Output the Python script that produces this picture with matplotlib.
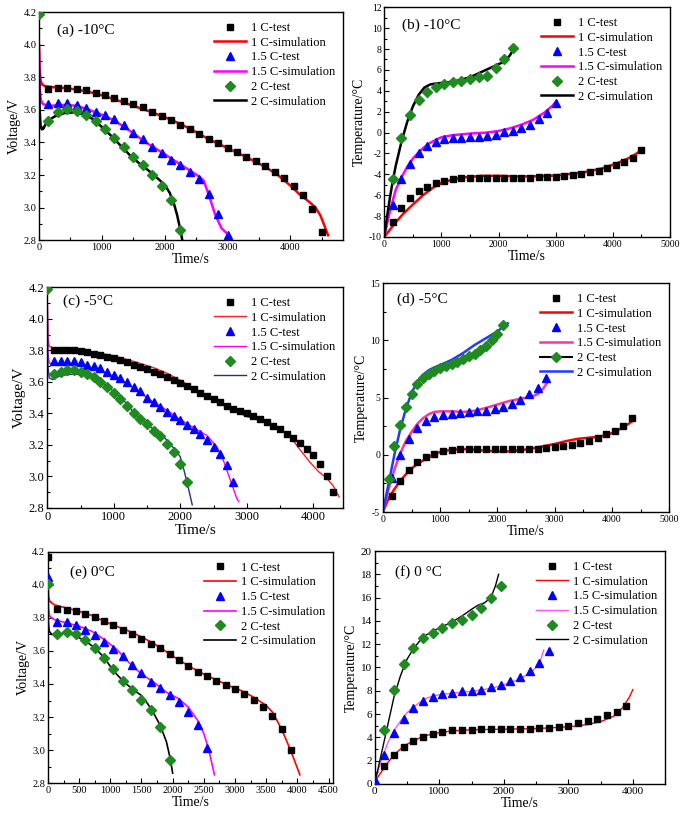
import matplotlib
matplotlib.use("Agg")
import matplotlib.pyplot as plt
from matplotlib.ticker import MultipleLocator
from matplotlib.lines import Line2D

plt.rcParams['font.family'] = ['Liberation Serif', 'DejaVu Serif']
plt.rcParams['axes.unicode_minus'] = False

# ---------------- (a) -10C voltage ----------------
a_t_1c = [150, 300, 450, 600, 750, 900, 1050, 1200, 1350, 1500, 1650, 1800, 1950, 2100, 2250,
          2400, 2550, 2700, 2850, 3000, 3150, 3300, 3450, 3600, 3750, 3900, 4050, 4200, 4350, 4500]
a_v_1c = [3.73, 3.735, 3.735, 3.73, 3.72, 3.705, 3.69, 3.675, 3.655, 3.635, 3.615, 3.59, 3.565, 3.54, 3.51,
          3.48, 3.45, 3.42, 3.395, 3.365, 3.34, 3.31, 3.285, 3.255, 3.22, 3.18, 3.135, 3.075, 2.99, 2.85]
a_t_15c = [150, 300, 450, 600, 750, 900, 1050, 1200, 1350, 1500, 1650, 1800, 1950, 2100, 2250,
           2400, 2550, 2700, 2850, 3000]
a_v_15c = [3.635, 3.645, 3.645, 3.63, 3.61, 3.59, 3.57, 3.545, 3.505, 3.46, 3.42, 3.375, 3.335, 3.295, 3.26,
           3.22, 3.175, 3.085, 2.96, 2.83]
a_t_2c = [0, 150, 300, 450, 600, 750, 900, 1050, 1200, 1350, 1500, 1650, 1800, 1950, 2100, 2250]
a_v_2c = [4.19, 3.53, 3.585, 3.605, 3.595, 3.57, 3.53, 3.485, 3.43, 3.37, 3.31, 3.26, 3.20, 3.135, 3.045, 2.865]

a_st_1c = [0, 10, 25, 50, 100, 200, 400, 600, 800, 1000, 1200, 1500, 1800, 2100, 2400, 2700, 3000,
           3300, 3600, 3800, 4000, 4150, 4300, 4400, 4480, 4550, 4600]
a_sv_1c = [4.0, 3.85, 3.78, 3.755, 3.745, 3.74, 3.735, 3.725, 3.71, 3.69, 3.665, 3.625, 3.585, 3.54, 3.485,
           3.42, 3.365, 3.31, 3.25, 3.20, 3.135, 3.08, 3.035, 3.0, 2.95, 2.88, 2.83]
a_st_15c = [0, 10, 25, 50, 100, 200, 300, 450, 600, 800, 1000, 1200, 1450, 1700, 1950, 2150, 2350,
            2550, 2620, 2700, 2800, 2900, 2980, 3030]
a_sv_15c = [3.95, 3.75, 3.67, 3.64, 3.63, 3.625, 3.63, 3.63, 3.625, 3.60, 3.57, 3.535, 3.47, 3.40, 3.34,
            3.29, 3.24, 3.19, 3.165, 3.08, 2.96, 2.875, 2.845, 2.82]
a_st_2c = [0, 10, 25, 45, 70, 100, 150, 250, 400, 550, 700, 850, 1000, 1150, 1300, 1450, 1600, 1750,
           1900, 2000, 2080, 2150, 2200, 2250, 2280]
a_sv_2c = [3.85, 3.6, 3.5, 3.48, 3.485, 3.51, 3.535, 3.56, 3.58, 3.585, 3.575, 3.545, 3.495, 3.44, 3.38,
           3.32, 3.27, 3.225, 3.175, 3.14, 3.09, 3.02, 2.95, 2.86, 2.80]

# ---------------- (b) -10C temperature ----------------
b_t_1c = a_t_1c
b_v_1c = [-8.6, -7.2, -6.3, -5.65, -5.2, -4.85, -4.65, -4.5, -4.4, -4.37, -4.37, -4.37, -4.37, -4.37, -4.37,
          -4.37, -4.37, -4.3, -4.3, -4.3, -4.2, -4.1, -4.0, -3.8, -3.65, -3.4, -3.15, -2.85, -2.4, -1.7]
b_t_15c = a_t_15c
b_v_15c = [-6.9, -4.5, -3.0, -2.0, -1.3, -0.95, -0.6, -0.5, -0.5, -0.45, -0.4, -0.3, -0.2, 0.05, 0.1,
           0.4, 0.75, 1.3, 1.9, 2.85]
b_t_2c = [150, 300, 450, 600, 750, 900, 1050, 1200, 1350, 1500, 1650, 1800, 1950, 2100, 2250]
b_v_2c = [-4.5, -0.5, 1.65, 3.1, 3.9, 4.4, 4.65, 4.8, 4.95, 5.15, 5.3, 5.45, 6.2, 7.0, 8.1]

b_st_1c = [0, 100, 200, 330, 500, 680, 850, 1000, 1200, 1400, 1700, 2000, 2300, 2600, 2900, 3200,
           3500, 3800, 4050, 4300, 4520]
b_sv_1c = [-10, -9.3, -8.6, -7.8, -6.9, -6.0, -5.3, -4.85, -4.5, -4.3, -4.15, -4.15, -4.2, -4.2, -4.15,
           -4.0, -3.8, -3.45, -3.0, -2.4, -1.65]
b_st_15c = [0, 50, 100, 200, 300, 400, 500, 600, 700, 800, 900, 1000, 1200, 1500, 1800, 2000, 2200,
            2400, 2600, 2800, 2950, 3010]
b_sv_15c = [-10, -8.7, -7.5, -5.5, -4.3, -3.3, -2.5, -1.9, -1.4, -1.0, -0.7, -0.45, -0.25, -0.1, 0.0,
            0.15, 0.4, 0.75, 1.2, 1.9, 2.6, 3.0]
b_st_2c = [0, 50, 100, 150, 200, 300, 400, 500, 600, 700, 800, 900, 1100, 1300, 1500, 1700, 1900,
           2100, 2200, 2260]
b_sv_2c = [-10, -8, -6.2, -4.6, -3.2, -0.9, 1.0, 2.5, 3.6, 4.3, 4.6, 4.7, 4.8, 5.0, 5.3, 5.8, 6.3,
           6.8, 7.4, 8.0]

# ---------------- (c) -5C voltage ----------------
c_t_1c = [100, 200, 300, 400, 500, 600, 700, 800, 900, 1000, 1100, 1200, 1300, 1400, 1500, 1600,
          1700, 1800, 1900, 2000, 2100, 2200, 2300, 2400, 2500, 2600, 2700, 2800, 2900, 3000, 3100,
          3200, 3300, 3400, 3500, 3600, 3700, 3800, 3900, 4000, 4100, 4200, 4300]
c_v_1c = [3.80, 3.80, 3.80, 3.80, 3.795, 3.79, 3.78, 3.77, 3.76, 3.75,
          3.74, 3.725, 3.71, 3.695, 3.68, 3.665, 3.65, 3.63, 3.615, 3.595,
          3.575, 3.555, 3.53, 3.51, 3.49, 3.47, 3.45, 3.43, 3.415, 3.405,
          3.385, 3.365, 3.345, 3.32, 3.30, 3.27, 3.245, 3.21, 3.175, 3.135,
          3.08, 3.005, 2.90]
c_t_15c = [100, 200, 300, 400, 500, 600, 700, 800, 900, 1000, 1100, 1200, 1300, 1400, 1500, 1600,
           1700, 1800, 1900, 2000, 2100, 2200, 2300, 2400, 2500, 2600, 2700, 2800]
c_v_15c = [3.735, 3.735, 3.735, 3.735, 3.725, 3.71, 3.70, 3.685, 3.665, 3.645,
           3.625, 3.60, 3.57, 3.54, 3.50, 3.47, 3.44, 3.41, 3.385, 3.355,
           3.325, 3.30, 3.27, 3.23, 3.185, 3.14, 3.07, 2.965]
c_t_2c = [0, 100, 200, 300, 400, 500, 600, 700, 800, 900, 1000, 1100, 1200, 1300, 1400, 1500,
          1600, 1700, 1800, 1900, 2000, 2100]
c_v_2c = [4.19, 3.65, 3.665, 3.675, 3.675, 3.665, 3.65, 3.63, 3.60, 3.565, 3.53,
          3.49, 3.45, 3.405, 3.365, 3.33, 3.29, 3.255, 3.205, 3.155, 3.08, 2.965]

c_st_1c = [0, 10, 30, 100, 400, 700, 1000, 1300, 1600, 1800, 2000, 2300, 2600, 2800, 3000, 3200,
           3400, 3600, 3650, 3800, 3950, 4080, 4200, 4300, 4390]
c_sv_1c = [4.1, 3.88, 3.825, 3.815, 3.81, 3.79, 3.765, 3.73, 3.69, 3.655, 3.61, 3.53, 3.46, 3.42,
           3.38, 3.355, 3.315, 3.275, 3.255, 3.17, 3.09, 3.03, 2.99, 2.94, 2.87]
c_st_15c = [0, 10, 30, 100, 200, 400, 600, 800, 1000, 1200, 1400, 1600, 1800, 2000, 2200, 2400,
            2550, 2650, 2750, 2850, 2880]
c_sv_15c = [4.15, 3.78, 3.72, 3.71, 3.715, 3.71, 3.695, 3.67, 3.63, 3.59, 3.53, 3.47, 3.42, 3.36,
            3.31, 3.26, 3.19, 3.10, 2.98, 2.86, 2.84]
c_st_2c = [0, 10, 30, 80, 200, 400, 600, 800, 1000, 1200, 1300, 1500, 1700, 1800, 1900, 2000,
           2050, 2120, 2180]
c_sv_2c = [4.15, 3.7, 3.625, 3.615, 3.64, 3.65, 3.64, 3.60, 3.54, 3.46, 3.405, 3.33, 3.27, 3.23,
           3.18, 3.125, 3.05, 2.93, 2.82]

# ---------------- (d) -5C temperature ----------------
d_t_1c = [150, 300, 450, 600, 750, 900, 1050, 1200, 1350, 1500, 1650, 1800, 1950, 2100, 2250,
          2400, 2550, 2700, 2850, 3000, 3150, 3300, 3450, 3600, 3750, 3900, 4050, 4200, 4350]
d_v_1c = [-3.6, -2.3, -1.3, -0.6, -0.2, 0.1, 0.35, 0.45, 0.55, 0.55, 0.55, 0.55, 0.55, 0.55, 0.55,
          0.55, 0.55, 0.55, 0.6, 0.7, 0.8, 0.9, 1.05, 1.25, 1.45, 1.8, 2.1, 2.5, 3.2]
d_t_15c = [150, 300, 450, 600, 750, 900, 1050, 1200, 1350, 1500, 1650, 1800, 1950, 2100, 2250,
           2400, 2550, 2700, 2850]
d_v_15c = [-2.0, 0.0, 1.4, 2.35, 2.95, 3.35, 3.5, 3.6, 3.7, 3.75, 3.8, 3.85, 4.0, 4.15, 4.45,
           4.75, 5.3, 5.8, 6.75]
d_t_2c = [100, 200, 300, 400, 500, 600, 700, 800, 900, 1000, 1100, 1200, 1300, 1400, 1500, 1600,
          1700, 1800, 1900, 2000, 2100]
d_v_2c = [-2.1, 0.8, 2.65, 4.2, 5.3, 6.15, 6.7, 7.05, 7.35, 7.55, 7.75, 7.95, 8.15, 8.35, 8.6,
          8.85, 9.15, 9.55, 10.05, 10.6, 11.35]

d_st_1c = [0, 100, 200, 300, 400, 500, 600, 700, 800, 900, 1000, 1200, 1400, 1600, 1800, 2000,
           2200, 2400, 2600, 2800, 3000, 3200, 3400, 3600, 3800, 4000, 4200, 4370]
d_sv_1c = [-5, -3.8, -3.0, -2.3, -1.7, -1.2, -0.8, -0.5, -0.2, 0.05, 0.25, 0.45, 0.5, 0.45, 0.35,
           0.3, 0.3, 0.4, 0.55, 0.75, 0.95, 1.2, 1.4, 1.5, 1.6, 1.9, 2.4, 3.0]
d_st_15c = [0, 100, 200, 300, 400, 500, 600, 700, 800, 900, 1000, 1200, 1400, 1600, 1800, 2000,
            2200, 2400, 2600, 2700, 2800, 2880]
d_sv_15c = [-5, -3.0, -1.3, 0.1, 1.2, 2.0, 2.7, 3.2, 3.55, 3.75, 3.8, 3.8, 3.75, 3.85, 4.1, 4.4,
            4.7, 4.9, 5.1, 5.3, 5.8, 6.4]
d_st_2c = [0, 100, 200, 300, 400, 500, 600, 700, 800, 900, 1000, 1200, 1400, 1600, 1800, 2000, 2180]
d_sv_2c = [-5, -2.5, 0.0, 2.2, 4.0, 5.4, 6.4, 7.0, 7.4, 7.65, 7.85, 8.3, 8.9, 9.6, 10.2, 10.8, 11.5]

# ---------------- (e) 0C voltage ----------------
e_t_1c = [0, 150, 300, 450, 600, 750, 900, 1050, 1200, 1350, 1500, 1650, 1800, 1950, 2100, 2250,
          2400, 2550, 2700, 2850, 3000, 3150, 3300, 3450, 3600, 3750, 3900]
e_v_1c = [4.17, 3.855, 3.85, 3.84, 3.825, 3.805, 3.78, 3.76, 3.73, 3.705, 3.675, 3.645, 3.615, 3.58,
          3.545, 3.51, 3.475, 3.45, 3.42, 3.395, 3.37, 3.34, 3.305, 3.26, 3.205, 3.125, 3.0]
e_t_15c = [0, 150, 300, 450, 600, 750, 900, 1050, 1200, 1350, 1500, 1650, 1800, 1950, 2100, 2250,
           2400, 2550]
e_v_15c = [4.045, 3.775, 3.775, 3.755, 3.73, 3.695, 3.655, 3.61, 3.57, 3.515, 3.465, 3.415, 3.375,
           3.335, 3.29, 3.23, 3.153, 3.01]
e_t_2c = [0, 150, 300, 450, 600, 750, 900, 1050, 1200, 1350, 1500, 1650, 1800, 1950]
e_v_2c = [4.005, 3.705, 3.715, 3.70, 3.665, 3.615, 3.56, 3.49, 3.42, 3.365, 3.305, 3.24, 3.14, 2.94]

e_st_1c = [0, 10, 30, 100, 300, 500, 700, 900, 1100, 1300, 1500, 1700, 1900, 2100, 2300, 2500,
           2700, 2900, 3100, 3300, 3500, 3600, 3700, 3800, 3900, 4000, 4040]
e_sv_1c = [4.05, 3.93, 3.9, 3.88, 3.86, 3.84, 3.815, 3.78, 3.75, 3.72, 3.685, 3.645, 3.595, 3.545,
           3.50, 3.46, 3.425, 3.39, 3.36, 3.32, 3.27, 3.23, 3.16, 3.08, 2.99, 2.89, 2.85]
e_st_15c = [0, 10, 30, 100, 300, 500, 700, 900, 1100, 1300, 1500, 1700, 1900, 2100, 2250, 2400,
            2500, 2580, 2640, 2670]
e_sv_15c = [4.0, 3.85, 3.81, 3.79, 3.77, 3.75, 3.72, 3.67, 3.61, 3.53, 3.46, 3.41, 3.35, 3.31, 3.26,
            3.18, 3.10, 3.0, 2.9, 2.85]
e_st_2c = [0, 10, 20, 60, 150, 300, 450, 600, 750, 900, 1050, 1200, 1350, 1500, 1600, 1700, 1800,
           1900, 1960, 2000]
e_sv_2c = [3.85, 3.76, 3.72, 3.70, 3.70, 3.71, 3.69, 3.66, 3.62, 3.56, 3.48, 3.42, 3.37, 3.33, 3.28,
           3.22, 3.15, 3.05, 2.95, 2.86]

# ---------------- (f) 0C temperature ----------------
f_t_1c = [150, 300, 450, 600, 750, 900, 1050, 1200, 1350, 1500, 1650, 1800, 1950, 2100, 2250,
          2400, 2550, 2700, 2850, 3000, 3150, 3300, 3450, 3600, 3750, 3900]
f_v_1c = [1.5, 2.5, 3.2, 3.65, 4.0, 4.3, 4.5, 4.6, 4.6, 4.6, 4.7, 4.7, 4.7, 4.7, 4.7, 4.75, 4.8, 4.8,
          4.9, 5.0, 5.2, 5.4, 5.6, 5.9, 6.2, 6.7]
f_t_15c = [0, 150, 300, 450, 600, 750, 900, 1050, 1200, 1350, 1500, 1650, 1800, 1950, 2100, 2250,
           2400, 2550, 2700]
f_v_15c = [0.3, 2.5, 4.4, 5.6, 6.5, 7.1, 7.5, 7.7, 7.8, 8.0, 8.0, 8.1, 8.3, 8.5, 8.8, 9.2, 9.7,
           10.4, 11.4]
f_t_2c = [150, 300, 450, 600, 750, 900, 1050, 1200, 1350, 1500, 1650, 1800, 1950]
f_v_2c = [4.6, 8.1, 10.3, 11.7, 12.5, 13.0, 13.4, 13.8, 14.1, 14.5, 15.1, 16.0, 17.0]

f_st_1c = [0, 100, 200, 300, 400, 500, 600, 700, 800, 900, 1000, 1200, 1500, 2000, 2500, 3000,
           3300, 3500, 3700, 3850, 3950, 4000]
f_sv_1c = [0.2, 1.0, 1.8, 2.5, 3.0, 3.4, 3.7, 3.95, 4.15, 4.3, 4.4, 4.55, 4.65, 4.7, 4.75, 4.9,
           5.1, 5.35, 5.8, 6.6, 7.5, 8.1]
f_st_15c = [0, 100, 200, 300, 400, 500, 600, 700, 800, 900, 1000, 1200, 1500, 1800, 2000, 2200,
            2400, 2500, 2580, 2620]
f_sv_15c = [0.2, 2.0, 3.5, 4.6, 5.4, 6.1, 6.6, 7.0, 7.35, 7.55, 7.65, 7.8, 7.95, 8.2, 8.5, 8.9,
            9.5, 10.0, 10.8, 11.5]
f_st_2c = [0, 100, 200, 300, 400, 500, 600, 700, 800, 900, 1000, 1200, 1400, 1500, 1600, 1700,
           1800, 1870, 1920]
f_sv_2c = [0.0, 2.5, 5.0, 7.5, 9.3, 10.7, 11.6, 12.3, 12.8, 13.1, 13.4, 13.9, 14.6, 15.0, 15.35,
           15.55, 16.0, 17.0, 18.0]

labels = ["1 C-test", "1 C-simulation", "1.5 C-test", "1.5 C-simulation", "2 C-test", "2 C-simulation"]
labels_f = ["1 C-test", "1 C-simulation", "1.5 C-simulation", "1.5 C-simulation", "2 C-test", "2 C-simulation"]

GREEN = '#1f8a1f'


def draw(ax, tests, sims, sim_colors, lw, lab):
    (t1, v1), (t15, v15), (t2, v2) = tests
    (s1, w1), (s15, w15), (s2, w2) = sims
    ax.plot(t1, v1, 's', color='black', ms=5, ls='none', label=lab[0], zorder=3)
    ax.plot(s1, w1, '-', color=sim_colors[0], lw=lw, label=lab[1], zorder=2)
    ax.plot(t15, v15, '^', color='blue', ms=6, ls='none', label=lab[2], zorder=3)
    ax.plot(s15, w15, '-', color=sim_colors[1], lw=lw, label=lab[3], zorder=2)
    ax.plot(t2, v2, 'D', color=GREEN, ms=4.6, ls='none', label=lab[4], zorder=3)
    ax.plot(s2, w2, '-', color=sim_colors[2], lw=lw, label=lab[5], zorder=2)


def style(ax, xlim, ylim, xmaj, ymaj, ylabel, tick_fs, lab_fs, panel, ppos, pfs=11):
    ax.set_xlim(*xlim)
    ax.set_ylim(*ylim)
    ax.xaxis.set_major_locator(MultipleLocator(xmaj))
    ax.xaxis.set_minor_locator(MultipleLocator(xmaj / 2))
    ax.yaxis.set_major_locator(MultipleLocator(ymaj))
    ax.yaxis.set_minor_locator(MultipleLocator(ymaj / 2))
    ax.tick_params(which='both', direction='in', width=0.8, labelsize=tick_fs, pad=2)
    ax.tick_params(which='major', length=3.5)
    ax.tick_params(which='minor', length=2)
    for s in ax.spines.values():
        s.set_linewidth(1.0)
    ax.set_xlabel("Time/s", fontsize=lab_fs, labelpad=1)
    ax.set_ylabel(ylabel, fontsize=lab_fs, labelpad=2)
    ax.text(ppos[0], ppos[1], panel, transform=ax.transAxes, fontsize=pfs, va='center', ha='left')


fig = plt.figure(figsize=(6.85, 8.14), dpi=100)

axa = fig.add_axes([0.057, 0.705, 0.444, 0.280])
axb = fig.add_axes([0.561, 0.709, 0.417, 0.282])
axc = fig.add_axes([0.069, 0.376, 0.432, 0.271])
axd = fig.add_axes([0.559, 0.371, 0.418, 0.281])
axe = fig.add_axes([0.070, 0.038, 0.416, 0.284])
axf = fig.add_axes([0.547, 0.037, 0.424, 0.286])

draw(axa, [(a_t_1c, a_v_1c), (a_t_15c, a_v_15c), (a_t_2c, a_v_2c)],
     [(a_st_1c, a_sv_1c), (a_st_15c, a_sv_15c), (a_st_2c, a_sv_2c)],
     ['#ff0000', '#ff00ff', 'black'], 1.8, labels)
style(axa, (0, 4840), (2.8, 4.2), 1000, 0.2, "Voltage/V", 7.5, 10, "(a) -10°C", (0.06, 0.92))

draw(axb, [(b_t_1c, b_v_1c), (b_t_15c, b_v_15c), (b_t_2c, b_v_2c)],
     [(b_st_1c, b_sv_1c), (b_st_15c, b_sv_15c), (b_st_2c, b_sv_2c)],
     ['#ff0000', '#ff00ff', 'black'], 1.8, labels)
style(axb, (0, 5000), (-10, 12), 1000, 2, "Temperature/°C", 7, 10, "(b) -10°C", (0.063, 0.92))

draw(axc, [(c_t_1c, c_v_1c), (c_t_15c, c_v_15c), (c_t_2c, c_v_2c)],
     [(c_st_1c, c_sv_1c), (c_st_15c, c_sv_15c), (c_st_2c, c_sv_2c)],
     ['#ff2020', '#ff00ff', '#2b2b8c'], 1.0, labels)
style(axc, (0, 4450), (2.8, 4.2), 1000, 0.2, "Voltage/V", 9, 11, "(c) -5°C", (0.054, 0.937))

draw(axd, [(d_t_1c, d_v_1c), (d_t_15c, d_v_15c), (d_t_2c, d_v_2c)],
     [(d_st_1c, d_sv_1c), (d_st_15c, d_sv_15c), (d_st_2c, d_sv_2c)],
     ['#ff0000', '#ff3399', '#1e3cff'], 1.8, labels)
style(axd, (0, 5000), (-5, 15), 1000, 5, "Temperature/°C", 7, 10, "(d) -5°C", (0.05, 0.93))

draw(axe, [(e_t_1c, e_v_1c), (e_t_15c, e_v_15c), (e_t_2c, e_v_2c)],
     [(e_st_1c, e_sv_1c), (e_st_15c, e_sv_15c), (e_st_2c, e_sv_2c)],
     ['#ff0000', '#ff00ff', 'black'], 1.2, labels)
style(axe, (0, 4570), (2.8, 4.2), 500, 0.2, "Voltage/V", 7.5, 10, "(e) 0°C", (0.077, 0.913))

draw(axf, [(f_t_1c, f_v_1c), (f_t_15c, f_v_15c), (f_t_2c, f_v_2c)],
     [(f_st_1c, f_sv_1c), (f_st_15c, f_sv_15c), (f_st_2c, f_sv_2c)],
     ['#ff0000', '#ff55ff', 'black'], 1.0, labels_f)
style(axf, (0, 4500), (0, 20), 1000, 2, "Temperature/°C", 8, 10, "(f) 0 °C", (0.069, 0.91))

leg_kw = dict(loc='upper right', bbox_to_anchor=(1.0, 0.99), frameon=False, fontsize=9,
              handlelength=2.6, handletextpad=0.4, labelspacing=0.22, borderaxespad=0.2,
              numpoints=1)
for ax in [axa, axb, axc, axe, axf]:
    ax.legend(**leg_kw)

# (d) legend: 2 C-test drawn with a black line through the diamond
h, l = axd.get_legend_handles_labels()
h[4] = Line2D([], [], color='black', lw=1.5, marker='D', mfc=GREEN, mec=GREEN, ms=4.6)
axd.legend(h, l, **leg_kw)

fig.savefig("out.png", dpi=100)
